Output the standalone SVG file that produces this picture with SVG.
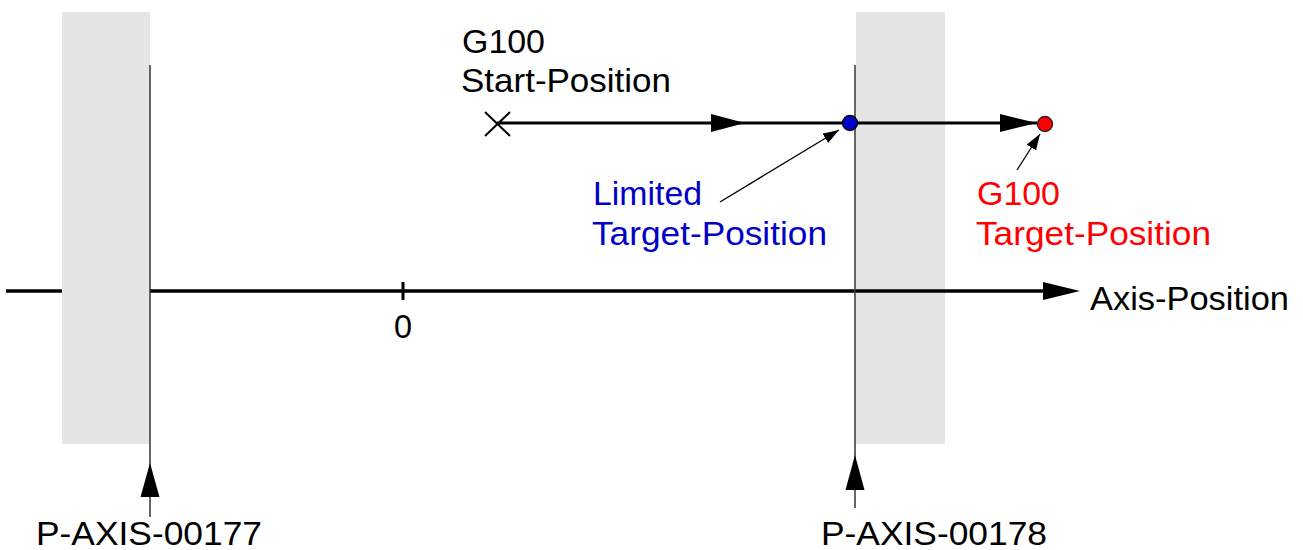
<svg xmlns="http://www.w3.org/2000/svg" width="1303" height="550" viewBox="0 0 1303 550">
<style>
text{font-family:"Liberation Sans",Arial,sans-serif;font-size:32.5px;fill:#000}
.blue{fill:#0000c8}
.red{fill:#ff0000}
.zone{fill:#e5e5e5}
.limit{stroke:#333;stroke-width:1.5;fill:none}
.thick{stroke:#000;stroke-width:3;fill:none}
.thin{stroke:#000;stroke-width:1.3;fill:none}
.head{fill:#000}
</style>
<defs>
<marker id="ptr" markerUnits="userSpaceOnUse" markerWidth="17" markerHeight="12" refX="16" refY="5.5" orient="auto">
<path d="M0,0 L16,5.5 L0,11 z" fill="#000"/>
</marker>
</defs>
<rect width="1303" height="550" fill="#fff"/>

<g id="axis">
<line class="thick" x1="6" y1="291" x2="1045" y2="291" style="stroke-width:3.5"/>
<polygon class="head" points="1043,282 1080,291 1043,300"/>
<line class="thick" x1="403" y1="282" x2="403" y2="300"/>
<text x="403" y="338" text-anchor="middle">0</text>
<text x="1090" y="310" textLength="199" lengthAdjust="spacingAndGlyphs">Axis-Position</text>
</g>

<g id="limit-min">
<rect class="zone" x="62" y="12" width="88" height="432"/>
<line class="limit" x1="150" y1="65" x2="150" y2="517"/>
<polygon class="head" points="150,463 159.5,497 140.5,497"/>
<text x="36" y="545" textLength="226" lengthAdjust="spacingAndGlyphs">P-AXIS-00177</text>
</g>

<g id="limit-max">
<rect class="zone" x="856" y="12" width="89" height="432"/>
<line class="thick" x1="856" y1="291" x2="945" y2="291" style="stroke-width:3.5"/>
<line class="limit" x1="855" y1="65" x2="855" y2="508"/>
<polygon class="head" points="855,455 864.5,490 845.5,490"/>
<text x="821" y="545" textLength="226" lengthAdjust="spacingAndGlyphs">P-AXIS-00178</text>
</g>

<g id="connectors">
<line class="thick" x1="497" y1="123" x2="1037" y2="123"/>
<polygon class="head" points="711,114 745,123 711,132"/>
<polygon class="head" points="1000,114 1037,123 1000,132"/>
<line class="thin" x1="720" y1="202" x2="839" y2="130" marker-end="url(#ptr)"/>
<line class="thin" x1="1017" y1="170" x2="1040" y2="134" marker-end="url(#ptr)"/>
</g>

<g id="start-position">
<line class="thin" style="stroke-width:2" x1="485" y1="112" x2="510" y2="136"/>
<line class="thin" style="stroke-width:2" x1="485" y1="136" x2="510" y2="112"/>
<text x="462" y="53" textLength="83" lengthAdjust="spacingAndGlyphs">G100</text>
<text x="461" y="92" textLength="210" lengthAdjust="spacingAndGlyphs">Start-Position</text>
</g>

<g id="limited-target">
<circle cx="850" cy="123" r="7.5" fill="#0000c8" stroke="#000" stroke-width="1.3"/>
<text class="blue" x="593" y="205" textLength="109" lengthAdjust="spacingAndGlyphs">Limited</text>
<text class="blue" x="592" y="245" textLength="235" lengthAdjust="spacingAndGlyphs">Target-Position</text>
</g>

<g id="g100-target">
<circle cx="1045" cy="124" r="7.5" fill="#ff0000" stroke="#222" stroke-width="1.3"/>
<text class="red" x="977" y="205" textLength="83" lengthAdjust="spacingAndGlyphs">G100</text>
<text class="red" x="976" y="245" textLength="235" lengthAdjust="spacingAndGlyphs">Target-Position</text>
</g>
</svg>
